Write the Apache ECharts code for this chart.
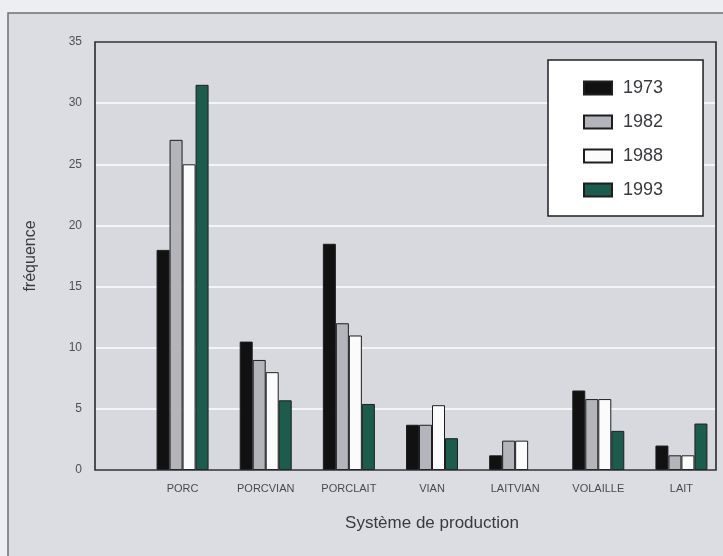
<!DOCTYPE html>
<html>
<head>
<meta charset="utf-8">
<script src="https://cdn.jsdelivr.net/npm/echarts@6/dist/echarts.min.js"></script>
<style>
html,body{margin:0;padding:0;background:#eceef2;}
#c{width:723px;height:556px;}
</style>
</head>
<body>
<div id="c"></div>
<script>
const categories = ['PORC', 'PORCVIAN', 'PORCLAIT', 'VIAN', 'LAITVIAN', 'VOLAILLE', 'LAIT'];
const years = ['1973', '1982', '1988', '1993'];
const v1973 = [18, 10.5, 18.5, 3.7, 1.2, 6.5, 2.0];
const v1982 = [27, 9, 12, 3.7, 2.4, 5.8, 1.2];
const v1988 = [25, 8, 11, 5.3, 2.4, 5.8, 1.2];
const v1993 = [31.5, 5.7, 5.4, 2.6, 0, 3.2, 3.8];
const yTicks = [0, 5, 10, 15, 20, 25, 30, 35];

const colors = ['#111111', '#b3b5bb', '#fbfbfb', '#1b5c4d'];
const seriesValues = [v1973, v1982, v1988, v1993];

const chart = echarts.init(document.getElementById('c'), null, {renderer: 'canvas'});
const font = "'Liberation Sans Narrow', 'Liberation Sans', Arial, sans-serif";
const font2 = "'Liberation Sans', Arial, sans-serif";

const G = {left: 95, right: 7, top: 42, bottom: 86};

chart.setOption({
  animation: false,
  backgroundColor: '#eceef2',
  graphic: [{
    type: 'rect', z: -10, silent: true,
    shape: {x: 8, y: 13, width: 740, height: 560},
    style: {fill: '#dcdde2', stroke: '#6f7074', lineWidth: 1.5}
  }, {
    type: 'rect', z: 50, silent: true,
    shape: {x: G.left, y: G.top, width: 723 - G.left - G.right, height: 556 - G.top - G.bottom},
    style: {fill: null, stroke: '#2a2a2c', lineWidth: 1.6}
  }],
  grid: [
    {left: G.left, right: G.right, top: G.top, bottom: G.bottom, show: true, backgroundColor: '#d8d9df', borderWidth: 0},
    {left: 141, right: 0, top: G.top, bottom: G.bottom}
  ],
  xAxis: [
    {gridIndex: 0, type: 'value', show: false, min: 0, max: 1},
    {gridIndex: 1, type: 'category', data: categories,
     axisLine: {show: false}, axisTick: {show: false},
     axisLabel: {color: '#4a4a4e', fontSize: 11, fontFamily: font, margin: 13},
     name: 'Système de production', nameLocation: 'middle', nameGap: 45,
     nameTextStyle: {color: '#3a3a3e', fontSize: 17, fontFamily: font2}}
  ],
  yAxis: [
    {gridIndex: 0, type: 'value', min: 0, max: 35, interval: 5,
     axisLine: {show: false}, axisTick: {show: false},
     axisLabel: {color: '#505054', fontSize: 12, fontFamily: font, margin: 13,
       formatter: v => yTicks.includes(v) ? String(v) : ''},
     splitLine: {show: true, lineStyle: {color: '#f4f5f7', width: 2}},
     name: 'fréquence', nameLocation: 'middle', nameGap: 56, nameRotate: 90,
     nameTextStyle: {color: '#3a3a3e', fontSize: 16, fontFamily: font2}},
    {gridIndex: 1, type: 'value', min: 0, max: 35, show: false, splitLine: {show: false}}
  ],
  legend: {
    orient: 'vertical', left: 548, top: 60,
    backgroundColor: '#ffffff', borderColor: '#1f1f22', borderWidth: 1.5,
    padding: [19, 40, 17, 35],
    itemWidth: 28, itemHeight: 13, itemGap: 16, icon: 'rect',
    textStyle: {color: '#3a3a3e', fontSize: 18, lineHeight: 18, fontFamily: font2, padding: [0, 0, 0, 6]},
    data: years
  },
  series: years.map((y, i) => ({
    name: y, type: 'bar', xAxisIndex: 1, yAxisIndex: 1,
    data: seriesValues[i].map(v => v === 0 ? {value: v, itemStyle: {borderWidth: 0}} : v),
    barWidth: 13, barGap: '0%',
    itemStyle: {color: colors[i], borderColor: '#1e1e20', borderWidth: 1}
  }))
});
</script>
</body>
</html>
